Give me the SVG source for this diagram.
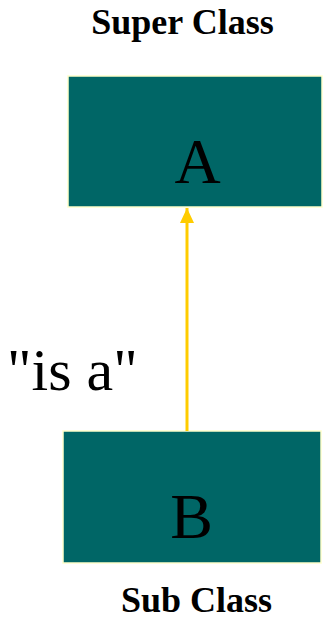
<svg xmlns="http://www.w3.org/2000/svg" width="323" height="621" viewBox="0 0 323 621">
<style>
.box{fill:#006666;stroke:#FFFFCC;stroke-width:1.5}
.lbl{font-family:"Liberation Serif","Times New Roman",serif;font-size:64px;fill:#000;text-anchor:middle}
.cap{font-family:"Liberation Serif","Times New Roman",serif;font-size:36px;font-weight:bold;fill:#000;text-anchor:middle}
.edge{stroke:#FFCC00;stroke-width:3;fill:none}
</style>
<defs>
<marker id="arr" markerUnits="userSpaceOnUse" markerWidth="16" markerHeight="16" viewBox="0 0 16 16" refX="15" refY="8" orient="auto">
<path d="M0,1 L15,8 L0,15 Z" fill="#FFCC00"/>
</marker>
</defs>
<rect width="323" height="621" fill="#fff"/>
<text class="cap" x="182.5" y="34">Super Class</text>
<text class="cap" x="196.5" y="612">Sub Class</text>
<g id="nodeA">
<rect class="box" x="68" y="76" width="254" height="131"/>
<text class="lbl" x="197.5" y="183">A</text>
</g>
<g id="nodeB">
<rect class="box" x="63" y="431" width="258" height="132"/>
<text class="lbl" x="191.5" y="538">B</text>
</g>
<g id="connectors">
<line class="edge" x1="187" y1="431" x2="187" y2="208" marker-end="url(#arr)"/>
<text x="7" y="390" font-family="'Liberation Serif','Times New Roman',serif" font-size="60">"is a"</text>
</g>
</svg>
